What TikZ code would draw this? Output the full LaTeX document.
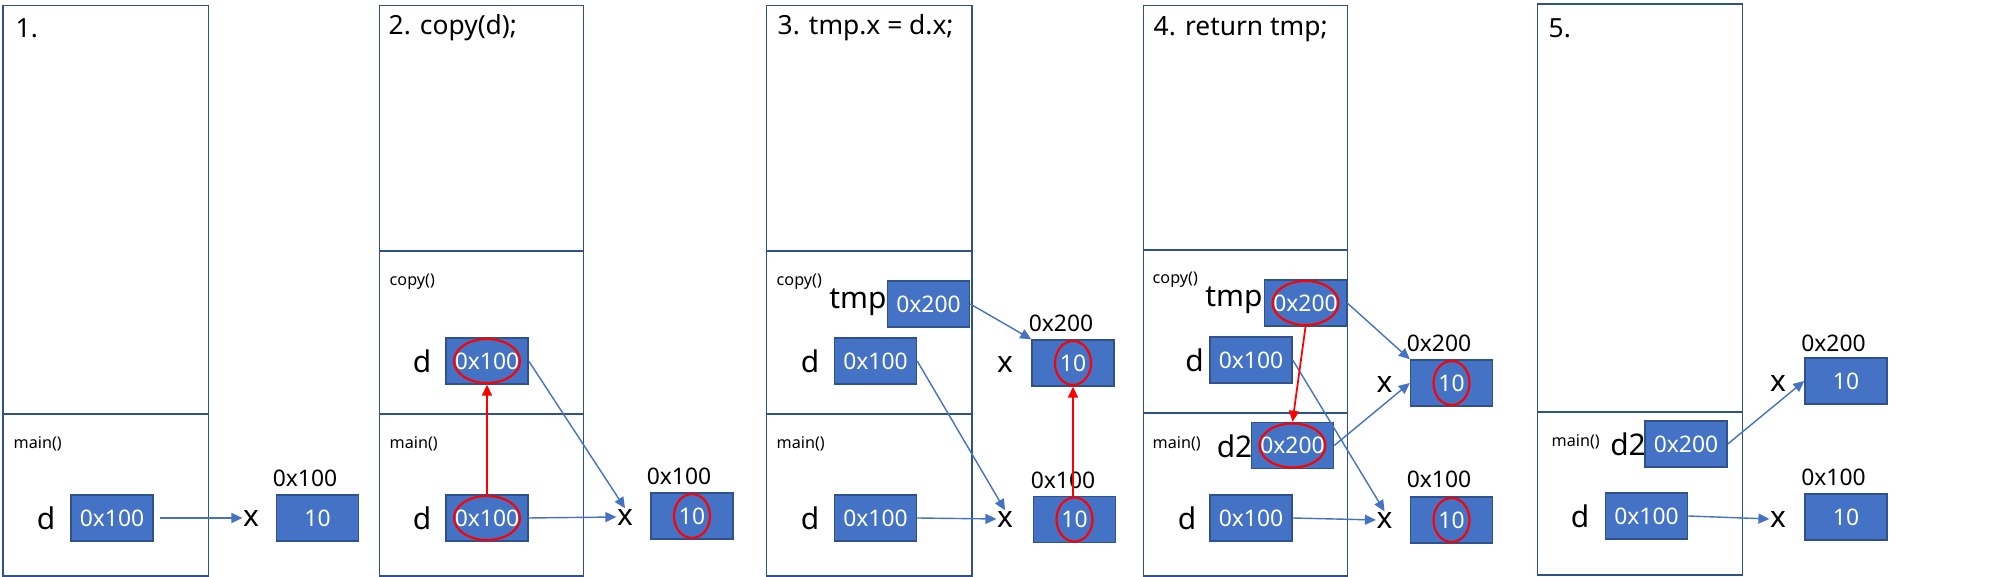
\documentclass[tikz,border=0pt]{standalone}
\usepackage{fontspec}
\setmainfont{Noto Sans}
\usetikzlibrary{arrows.meta}
\definecolor{boxblue}{HTML}{4472C4}
\definecolor{edgeblue}{HTML}{2F528F}
\tikzset{frame/.style={draw=edgeblue, line width=0.5pt},
  mem/.style={draw=edgeblue, fill=boxblue, text=white, minimum width=0.82cm,
    minimum height=0.46cm, inner sep=0pt, font=\fontsize{6.5}{7}\selectfont},
  var/.style={inner sep=0pt, font=\fontsize{8.5}{9}\selectfont},
  addr/.style={inner sep=0pt, font=\fontsize{6.5}{7}\selectfont},
  frm/.style={inner sep=0pt, anchor=west, font=\fontsize{4.6}{5}\selectfont},
  ttl/.style={inner sep=0pt, anchor=west, font=\fontsize{7.5}{8}\selectfont},
  ptr/.style={draw=boxblue, line width=0.4pt, -{Triangle[length=1.1mm,width=1mm]}},
  redptr/.style={draw=red, line width=0.5pt, -{Triangle[length=1.1mm,width=1mm]}},
  ring/.style={draw=red, line width=0.6pt}}
\begin{document}
\begin{tikzpicture}[x=0.01cm, y=-0.01cm]
\useasboundingbox (0,0) rectangle (2000,577);
% stack frames
\draw[frame] (3,5.5) rectangle (208.5,576) (3,414) -- (208.5,414);
\draw[frame] (379.5,5.5) rectangle (583.5,576) (379.5,251) -- (583.5,251) (379.5,414) -- (583.5,414);
\draw[frame] (766.5,5.5) rectangle (972,576) (766.5,251) -- (972,251) (766.5,414) -- (972,414);
\draw[frame] (1143.5,5.5) rectangle (1347.5,576) (1143.5,250) -- (1347.5,250) (1143.5,413) -- (1347.5,413);
\draw[frame] (1537.5,4) rectangle (1742.5,575) (1537.5,412) -- (1742.5,412);

% 1.
\node[ttl] (t1) at (15,28) {1.};
\node[frm] (m1) at (13,444) {main()};
\node[mem] (d1) at (112,518) {0x100};
\node[var] (dl1) at (46,518) {d};
\node[var] (x1) at (251,518) {x};
\node[mem] (h1) at (317.5,518) {10};
\node[addr] (a1) at (305,478) {0x100};
\draw[ptr] (d1.east) ++(6,0) coordinate (s1) -- (x1.west);

% 2.
\node[ttl] (t2) at (388,28) {2. copy(d);};
\node[frm] (c2) at (389,282) {copy()};
\node[frm] (m2) at (389,444) {main()};
\node[mem] (cd2) at (487,361) {0x100};
\node[var] (cdl2) at (422,361) {d};
\node[mem] (d2) at (487,518) {0x100};
\node[var] (dl2) at (422,518) {d};
\node[var] (x2) at (625,517) {x};
\node[mem] (h2) at (692,516) {10};
\node[addr] (a2) at (679,476) {0x100};
\draw[ptr] (d2.east) -- (x2.west);
\draw[ptr] (cd2.east) -- (x2.north);
\draw[redptr] (d2.north) -- (cd2.south);
\draw[ring] (d2.center) ellipse (0.33cm and 0.22cm);
\draw[ring] (cd2.center) ellipse (0.33cm and 0.22cm);
\draw[ring] (h2.center) ellipse (0.18cm and 0.22cm);

% 3.
\node[ttl] (t3) at (777,28) {3. tmp.x = d.x;};
\node[frm] (c3) at (776,282) {copy()};
\node[frm] (m3) at (776,444) {main()};
\node[mem] (tp3) at (928.5,304) {0x200};
\node[var] (tpl3) at (858,302) {tmp};
\node[mem] (cd3) at (875.5,361) {0x100};
\node[var] (cdl3) at (810,361) {d};
\node[mem] (d3) at (875.5,518) {0x100};
\node[var] (dl3) at (810,518) {d};
\node[var] (xa3) at (1005,364) {x};
\node[mem] (ha3) at (1073,363) {10};
\node[addr] (aa3) at (1061,323) {0x200};
\node[var] (xb3) at (1005,519) {x};
\node[mem] (hb3) at (1074.5,519.5) {10};
\node[addr] (ab3) at (1063,480) {0x100};
\draw[ptr] (tp3.east) -- (ha3.north west);
\draw[ptr] (cd3.east) -- (xb3.north);
\draw[ptr] (d3.east) -- (xb3.west);
\draw[redptr] (hb3.north -| ha3) -- (ha3.south);
\draw[ring] (ha3.center) ellipse (0.18cm and 0.22cm);
\draw[ring] (hb3.center) ellipse (0.18cm and 0.22cm);

% 4.
\node[ttl] (t4) at (1153,29.5) {4. return tmp;};
\node[frm] (c4) at (1152,280) {copy()};
\node[frm] (m4) at (1152,443.5) {main()};
\node[mem] (tp4) at (1305.5,303) {0x200};
\node[var] (tpl4) at (1234,300) {tmp};
\node[mem] (cd4) at (1251,360) {0x100};
\node[var] (cdl4) at (1194.5,360) {d};
\node[mem] (dd4) at (1292.5,445.5) {0x200};
\node[var] (ddl4) at (1234.5,446) {d2};
\node[mem] (d4) at (1251,518) {0x100};
\node[var] (dl4) at (1187,518) {d};
\node[var] (xa4) at (1384.5,384) {x};
\node[mem] (ha4) at (1451.5,383) {10};
\node[addr] (aa4) at (1439,343) {0x200};
\node[var] (xb4) at (1384.5,520) {x};
\node[mem] (hb4) at (1451.5,520) {10};
\node[addr] (ab4) at (1439,479.5) {0x100};
\draw[ptr] (tp4.east) -- (ha4.north west);
\draw[ptr] (dd4.east) -- (ha4.west);
\draw[ptr] (cd4.east) -- (xb4.north);
\draw[ptr] (d4.east) -- (xb4.west);
\draw[redptr] (tp4.south) -- (dd4.north);
\draw[ring] (tp4.center) ellipse (0.33cm and 0.22cm);
\draw[ring] (dd4.center) ellipse (0.33cm and 0.22cm);
\draw[ring] (ha4.center) ellipse (0.18cm and 0.22cm);
\draw[ring] (hb4.center) ellipse (0.18cm and 0.22cm);

% 5.
\node[ttl] (t5) at (1548,28) {5.};
\node[frm] (m5) at (1551,441.5) {main()};
\node[mem] (dd5) at (1686,444) {0x200};
\node[var] (ddl5) at (1628,444) {d2};
\node[mem] (d5) at (1646.5,516) {0x100};
\node[var] (dl5) at (1580,516) {d};
\node[var] (xa5) at (1778,383) {x};
\node[mem] (ha5) at (1846,381) {10};
\node[addr] (aa5) at (1833.5,343) {0x200};
\node[var] (xb5) at (1778,519) {x};
\node[mem] (hb5) at (1846,517) {10};
\node[addr] (ab5) at (1833.5,477.5) {0x100};
\draw[ptr] (dd5.east) -- (ha5.west);
\draw[ptr] (d5.east) -- (xb5.west);
\end{tikzpicture}
\end{document}
